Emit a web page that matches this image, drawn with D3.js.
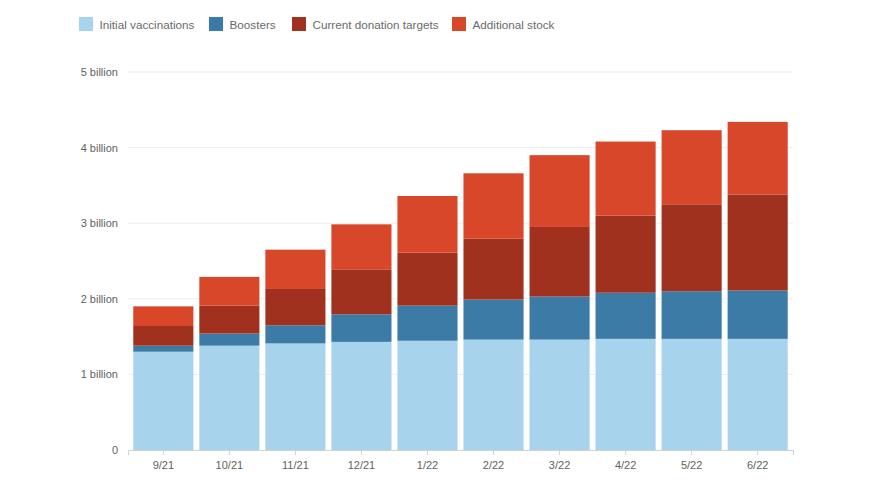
<!DOCTYPE html>
<html>
<head>
<meta charset="utf-8">
<script src="https://cdn.jsdelivr.net/npm/d3@7"></script>
<style>
    body { margin: 0; background: #fff; }
    svg { font-family: "Liberation Sans", Arial, Helvetica, sans-serif; }
    .grid line { stroke: #ededed; stroke-width: 1; }
    .axis text { fill: #5f5f5f; font-size: 11px; }
    .axis path, .axis line { stroke: #d2d2d2; }
    .legend text { fill: #6a6a6a; font-size: 11.7px; }
</style>
</head>
<body>
<script>
(function(){

    //chart data (billions of doses)
    var months = ["9/21", "10/21", "11/21", "12/21", "1/22", "2/22", "3/22", "4/22", "5/22", "6/22"];
    var initialVaccinations = [1.30, 1.38, 1.41, 1.43, 1.445, 1.46, 1.46, 1.47, 1.47, 1.47];
    var boosters = [0.08, 0.16, 0.24, 0.365, 0.465, 0.53, 0.57, 0.61, 0.63, 0.64];
    var donationTargets = [0.26, 0.37, 0.48, 0.595, 0.70, 0.805, 0.92, 1.02, 1.15, 1.27];
    var additionalStock = [0.26, 0.38, 0.52, 0.595, 0.75, 0.865, 0.95, 0.98, 0.98, 0.96];
    var seriesNames = ["Initial vaccinations", "Boosters", "Current donation targets", "Additional stock"];
    var seriesKeys = ["initial", "boosters", "donation", "additional"];
    var seriesColors = ["#a7d4ec", "#3b7ba6", "#a0311f", "#d8472a"];
    var yTicks = [0, 1, 2, 3, 4, 5];

    window.onload = setChart();

    function setChart(){
        var width = 880,
            height = 494,
            left = 128,
            right = 793,
            top = 72,
            bottom = 450;

        var svg = d3.select("body")
            .append("svg")
            .attr("width", width)
            .attr("height", height);

        //build rows for the stack layout
        var rows = months.map(function(m, i){
            return {
                month: m,
                initial: initialVaccinations[i],
                boosters: boosters[i],
                donation: donationTargets[i],
                additional: additionalStock[i]
            };
        });

        var stacked = d3.stack().keys(seriesKeys)(rows);

        var x = d3.scaleBand()
            .domain(months)
            .range([left, right])
            .paddingInner(0.09)
            .paddingOuter(0.08);

        var y = d3.scaleLinear()
            .domain([0, 5])
            .range([bottom, top]);

        var color = d3.scaleOrdinal()
            .domain(seriesKeys)
            .range(seriesColors);

        //gridlines
        svg.append("g")
            .attr("class", "grid")
            .selectAll("line")
            .data(yTicks.slice(1))
            .enter()
            .append("line")
            .attr("x1", left)
            .attr("x2", right)
            .attr("y1", function(d){ return y(d); })
            .attr("y2", function(d){ return y(d); });

        //bars
        svg.append("g")
            .selectAll("g")
            .data(stacked)
            .enter()
            .append("g")
            .attr("fill", function(d){ return color(d.key); })
            .selectAll("rect")
            .data(function(d){ return d; })
            .enter()
            .append("rect")
            .attr("x", function(d){ return x(d.data.month); })
            .attr("width", x.bandwidth())
            .attr("y", function(d){ return y(d[1]); })
            .attr("height", function(d){ return y(d[0]) - y(d[1]); });

        //y axis labels
        var yAxis = d3.axisLeft(y)
            .tickValues(yTicks)
            .tickSize(0)
            .tickPadding(10)
            .tickFormat(function(d){ return d === 0 ? "0" : d + " billion"; });

        svg.append("g")
            .attr("class", "axis")
            .attr("transform", "translate(" + left + ",0)")
            .call(yAxis)
            .call(function(g){ g.select(".domain").remove(); });

        //x axis
        var xAxis = d3.axisBottom(x)
            .tickSize(5)
            .tickSizeOuter(5)
            .tickPadding(6);

        svg.append("g")
            .attr("class", "axis")
            .attr("transform", "translate(0," + bottom + ")")
            .call(xAxis);

        //legend
        var legendX = [79, 209, 292, 452];
        var legend = svg.append("g")
            .attr("class", "legend")
            .selectAll("g")
            .data(seriesNames)
            .enter()
            .append("g")
            .attr("transform", function(d, i){ return "translate(" + legendX[i] + ",17)"; });

        legend.append("rect")
            .attr("width", 14)
            .attr("height", 14)
            .attr("fill", function(d, i){ return seriesColors[i]; });

        legend.append("text")
            .attr("x", 20.5)
            .attr("y", 11.5)
            .text(function(d){ return d; });
    };
})();
</script>
</body>
</html>
